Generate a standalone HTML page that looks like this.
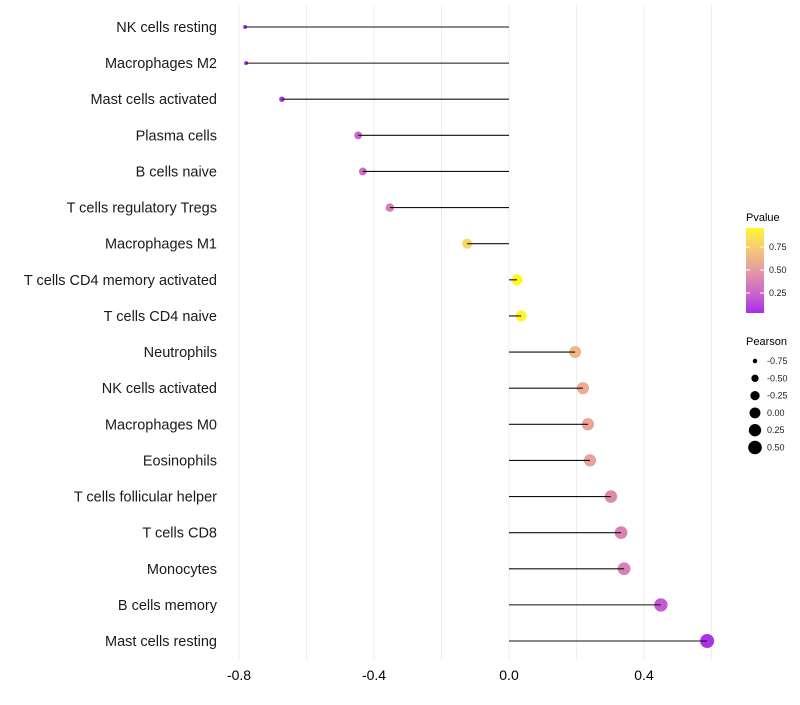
<!DOCTYPE html>
<html><head><meta charset="utf-8"><style>
body{margin:0;background:#fff;font-family:"Liberation Sans",sans-serif}
</style></head><body>
<svg id="c" width="800" height="700" xmlns="http://www.w3.org/2000/svg" font-family="Liberation Sans, sans-serif"></svg>
<script>
const categories=["NK cells resting","Macrophages M2","Mast cells activated","Plasma cells","B cells naive","T cells regulatory  Tregs ","Macrophages M1","T cells CD4 memory activated","T cells CD4 naive","Neutrophils","NK cells activated","Macrophages M0","Eosinophils","T cells follicular helper","T cells CD8","Monocytes","B cells memory","Mast cells resting"];
const pearson=[-0.782,-0.779,-0.673,-0.447,-0.433,-0.353,-0.124,0.024,0.036,0.196,0.219,0.234,0.24,0.302,0.332,0.341,0.45,0.587];
const pvalues=[0.03,0.03,0.05,0.25,0.27,0.35,0.8,0.97,0.95,0.65,0.58,0.55,0.53,0.42,0.38,0.37,0.2,0.05];
const xTicks=[-0.8,-0.4,0.0,0.4];
const xTickLabels=["-0.8","-0.4","0.0","0.4"];
const gridVals=[-0.8,-0.6,-0.4,-0.2,0,0.2,0.4,0.6];
const pLegendTicks=[0.25,0.5,0.75];
const sizeLegend=[-0.75,-0.5,-0.25,0,0.25,0.5];

const svg=document.getElementById('c');
const NS="http://www.w3.org/2000/svg";
const x=v=>509+v*337.5;
const y=i=>27+i*(614/17);
function toLab(c){let [r,g,b]=c.map(v=>{v/=255;return v>0.04045?Math.pow((v+0.055)/1.055,2.4):v/12.92;});
 let X=(r*0.4124+g*0.3576+b*0.1805)/0.95047,Y=r*0.2126+g*0.7152+b*0.0722,Z=(r*0.0193+g*0.1192+b*0.9505)/1.08883;
 const f=t=>t>0.008856?Math.cbrt(t):7.787*t+16/116;return [116*f(Y)-16,500*(f(X)-f(Y)),200*(f(Y)-f(Z))];}
function fromLab(l){const [L,a,b]=l;let fy=(L+16)/116,fx=fy+a/500,fz=fy-b/200;
 const fi=t=>t*t*t>0.008856?t*t*t:(t-16/116)/7.787;let X=fi(fx)*0.95047,Y=fi(fy),Z=fi(fz)*1.08883;
 let r=X*3.2406-Y*1.5372-Z*0.4986,g=-X*0.9689+Y*1.8758+Z*0.0415,bb=X*0.0557-Y*0.2040+Z*1.0570;
 return [r,g,bb].map(v=>{v=v>0.0031308?1.055*Math.pow(v,1/2.4)-0.055:12.92*v;return Math.round(Math.max(0,Math.min(1,v))*255);});}
const LA=toLab([160,32,240]),LB=toLab([255,255,0]);
const col=p=>{const c=fromLab(LA.map((v,k)=>v+(LB[k]-v)*p));return `rgb(${c.join(',')})`;};
const rr=v=>Math.sqrt(Math.max(2,29.7+32.9*v));
function mk(t,at,parent){const e=document.createElementNS(NS,t);for(const k in at)e.setAttribute(k,at[k]);(parent||svg).appendChild(e);return e;}

gridVals.forEach(g=>{
 const l=mk('line',{x1:x(g),x2:x(g),y1:5,y2:660,stroke:'#ededed','stroke-width':1});
 
 
});
xTicks.forEach((t,i)=>{
 const e=mk('text',{x:x(t),y:680,'text-anchor':'middle','font-size':14,fill:'#000'});
 e.textContent=xTickLabels[i];
 
 
});
categories.forEach((c,i)=>{
 const t=mk('text',{x:217,y:y(i)+5,'text-anchor':'end','font-size':14.5,fill:'#1a1a1a'});
 t.textContent=c;
 
 
 const p=mk('circle',{cx:x(pearson[i]),cy:y(i),r:rr(pearson[i]),fill:col(pvalues[i])});
 
 
 const l=mk('line',{x1:x(0),x2:x(pearson[i]),y1:y(i),y2:y(i),stroke:'#111','stroke-width':1.1});
 
 
});
const lt=mk('text',{x:746,y:221,'font-size':11,fill:'#000'});lt.textContent='Pvalue';


const defs=mk('defs',{});
const lg=mk('linearGradient',{id:'g',x1:0,y1:1,x2:0,y2:0},defs);
for(let k=0;k<=10;k++)mk('stop',{offset:k/10,'stop-color':col(0.03+0.93*k/10)},lg);
const gb=mk('rect',{x:746,y:228,width:18,height:85,fill:'url(#g)'});


const py=p=>270-(p-0.5)*92;
pLegendTicks.forEach(p=>{
 mk('line',{x1:746,x2:750,y1:py(p),y2:py(p),stroke:'#fff'});mk('line',{x1:760,x2:764,y1:py(p),y2:py(p),stroke:'#fff'});
 const t=mk('text',{x:769,y:py(p)+3,'font-size':9,fill:'#222'});t.textContent=p.toFixed(2);
 
 
});
const st=mk('text',{x:746,y:345,'font-size':11,fill:'#000'});st.textContent='Pearson';


sizeLegend.forEach((v,i)=>{
 const cy=361+i*17.3;
 const c=mk('circle',{cx:755,cy:cy,r:rr(v),fill:'#000'});
 
 
 const t=mk('text',{x:767,y:cy+3,'font-size':9,fill:'#222'});t.textContent=v.toFixed(2);
 
 
});
</script>
</body></html>
